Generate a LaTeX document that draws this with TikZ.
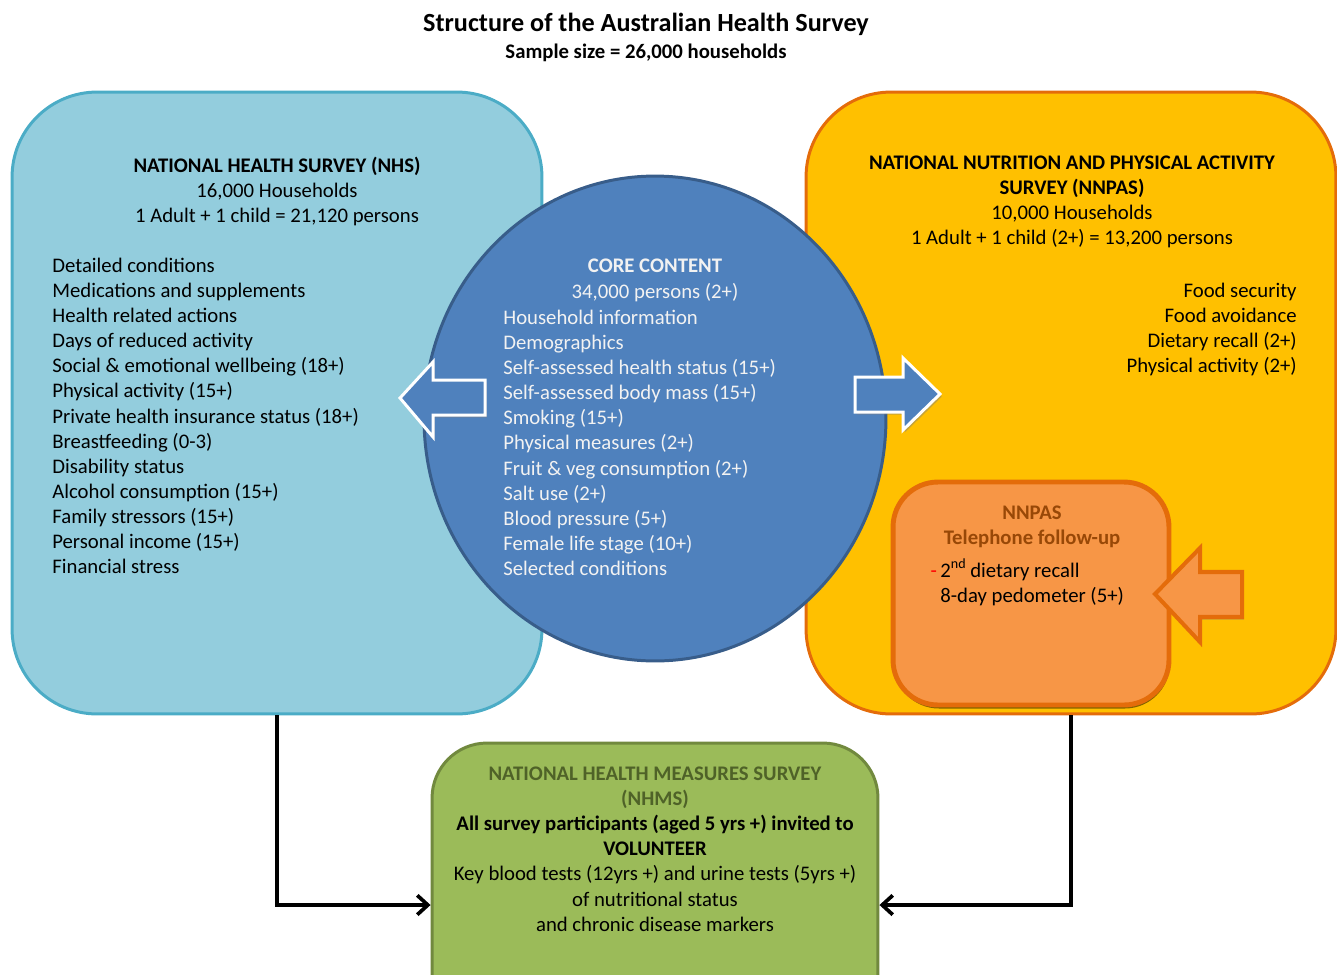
\documentclass[tikz,border=0pt]{standalone}
\usepackage{fontspec}
\setmainfont{Carlito}
\usetikzlibrary{positioning,calc}
\usetikzlibrary{arrows.meta,shapes.geometric,shadows}
\definecolor{NhsFill}{RGB}{147,205,221}
\definecolor{NhsLine}{RGB}{75,172,198}
\definecolor{CoreFill}{RGB}{79,129,189}
\definecolor{CoreLine}{RGB}{56,93,138}
\definecolor{CoreText}{RGB}{242,242,242}
\definecolor{NnpFill}{RGB}{255,192,0}
\definecolor{NnpLine}{RGB}{228,108,10}
\definecolor{PhoneFill}{RGB}{247,150,70}
\definecolor{PhoneText}{RGB}{152,72,7}
\definecolor{NhmsFill}{RGB}{155,187,89}
\definecolor{NhmsLine}{RGB}{113,137,62}
\definecolor{NhmsText}{RGB}{79,98,40}
\tikzset{
  panel/.style={rectangle,line width=1.7pt,rounded corners=1.7cm,minimum width=10.6cm,minimum height=12.44cm},
  txt/.style={inner sep=0pt,font=\fontsize{11.8}{14.3}\selectfont},
  blockarrow/.style={line width=1.7pt,line join=miter,drop shadow={shadow xshift=1pt,shadow yshift=-1.5pt,opacity=.45}},
}
\tikzset{link/.style={draw=black,line width=2.1pt,-{Straight Barb[length=6pt,width=11pt]}}}

\begin{document}
\begin{tikzpicture}[x=0.02cm,y=-0.02cm]
\useasboundingbox (0,0) rectangle (1337,974);
% titles
\node[font=\bfseries\fontsize{14.9}{17}\selectfont] (title) at (646,24) {Structure of the Australian Health Survey};
\node[txt,font=\bfseries\fontsize{11.8}{14.3}\selectfont] (sample) at (646,52.5) {Sample size = 26,000 households};
% the two surveys
\node[panel,fill=NhsFill,draw=NhsLine] (nhs) at (277,403) {};
\node[panel,fill=NnpFill,draw=NnpLine] (nnpas) at (1071,403) {};
\node[rectangle,rounded corners=0.9cm,line width=2.8pt,fill=PhoneFill,draw=NnpLine,minimum width=5.52cm,minimum height=4.46cm,
  drop shadow={shadow xshift=0.5pt,shadow yshift=-2pt,fill=black!60!NnpFill,opacity=.8}] (phone) at (1031,593.5) {};
\draw[blockarrow,fill=PhoneFill,draw=NnpLine,line width=2.3pt] (1155,594) -- (1200,548) -- (1200,572) -- (1242,572) -- (1242,617) -- (1200,617) -- (1200,642) -- cycle;
% core
\node[ellipse,fill=CoreFill,draw=CoreLine,line width=1.7pt,minimum width=9.24cm,minimum height=9.7cm] (core) at (655,418.5) {};
\draw[blockarrow,fill=CoreFill,draw=white] (400,398) -- (433,362) -- (433,380) -- (485,380) -- (485,415) -- (433,415) -- (433,437) -- cycle;
\draw[blockarrow,fill=CoreFill,draw=white] (940,394) -- (903,358) -- (903,377) -- (855,377) -- (855,412) -- (903,412) -- (903,430) -- cycle;
% NHS text
\node[txt,align=center,anchor=north] (nhshead) at (277,156.5) {\textbf{NATIONAL HEALTH SURVEY (NHS)}\\16,000 Households\\1 Adult + 1 child = 21,120 persons};
\node[txt,align=left,anchor=north west] (nhslist) at (52,257.5) {Detailed conditions\\Medications and supplements\\Health related actions\\Days of reduced activity\\Social \& emotional wellbeing (18+)\\Physical activity (15+)\\Private health insurance status (18+)\\Breastfeeding (0-3)\\Disability status\\Alcohol consumption (15+)\\Family stressors (15+)\\Personal income (15+)\\Financial stress};
% core text
\node[txt,align=center,anchor=north,text=CoreText] (corehead) at (655,259) {\textbf{CORE CONTENT}\\34,000 persons (2+)};
\node[txt,align=left,anchor=north west,text=CoreText] (corelist) at (503,309.5) {Household information\\Demographics\\Self-assessed health status (15+)\\Self-assessed body mass (15+)\\Smoking (15+)\\Physical measures (2+)\\Fruit \& veg consumption (2+)\\Salt use (2+)\\Blood pressure (5+)\\Female life stage (10+)\\Selected conditions};
% NNPAS text
\node[txt,align=center,anchor=north] (nnphead) at (1072,155.5) {\textbf{NATIONAL NUTRITION AND PHYSICAL ACTIVITY}\\\textbf{SURVEY (NNPAS)}\\10,000 Households\\1 Adult + 1 child (2+) = 13,200 persons};
\node[txt,align=right,anchor=north east] (nnplist) at (1297,282.5) {Food security\\Food avoidance\\Dietary recall (2+)\\Physical activity (2+)};
\node[txt,align=center,anchor=north,text=PhoneText,font=\bfseries\fontsize{11.8}{14.3}\selectfont] (phonehead) at (1032,505.5) {NNPAS\\Telephone follow-up};
\node[txt,align=left,anchor=north west] (phonelist) at (940,558) {\llap{\textcolor{red}{-}\,}2\raisebox{0.45em}{\fontsize{8}{9}\selectfont nd}\ dietary recall\\8-day pedometer (5+)};
% NHMS
\node[rectangle,rounded corners=1.1cm,line width=1.7pt,fill=NhmsFill,draw=NhmsLine,minimum width=8.92cm,minimum height=6.48cm] (nhms) at (655,905) {};
\node[txt,align=center,anchor=north] (nhmstext) at (655,766.5) {\textcolor{NhmsText}{\textbf{NATIONAL HEALTH MEASURES SURVEY}}\\\textcolor{NhmsText}{\textbf{(NHMS)}}\\\textbf{All survey participants (aged 5 yrs +) invited to}\\\textbf{VOLUNTEER}\\Key blood tests (12yrs +) and urine tests (5yrs +)\\of nutritional status\\and chronic disease markers};
\draw[link] (nhs.south) |- (nhms.west);
\draw[link] (nnpas.south) |- (nhms.east);
\end{tikzpicture}
\end{document}
